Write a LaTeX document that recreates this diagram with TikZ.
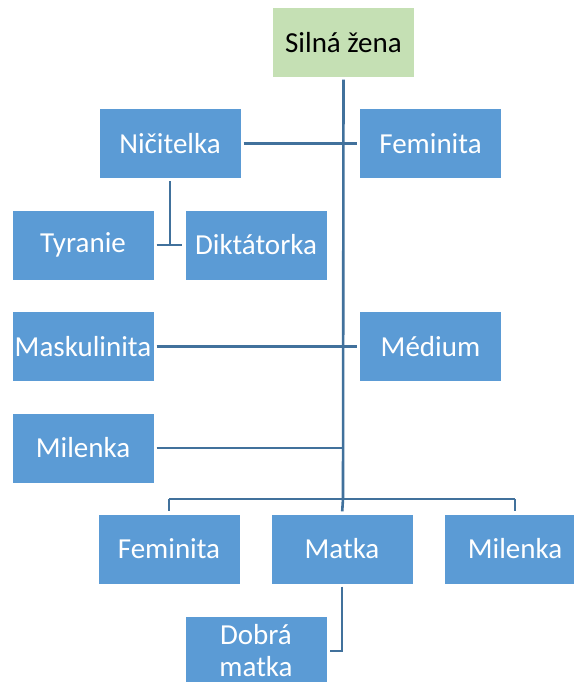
\documentclass[tikz,border=0pt]{standalone}
\usepackage{fontspec}
\setmainfont{Carlito}
\definecolor{boxblue}{HTML}{5B9BD5}
\definecolor{boxgreen}{HTML}{C5E0B4}
\definecolor{linkblue}{HTML}{41719C}
\begin{document}
\begin{tikzpicture}[x=1pt,y=-1pt,
  box/.style={fill=boxblue,text=white,minimum width=141pt,minimum height=69pt,inner sep=0pt,
    align=center,font=\fontsize{29}{32}\selectfont},
  rootbox/.style={box,fill=boxgreen,text=black},
  link/.style={draw=linkblue,line width=2.6pt}]
\useasboundingbox (0,0) rectangle (573,682);
\fill[white] (0,0) rectangle (573,682);
\node[rootbox] (silna) at (343.5,42.5) {Silná žena};
\node[box] (nic) at (170,143.5) {Ničitelka};
\node[box] (fem1) at (430.5,143.5) {Feminita};
\node[box] (tyr) at (83,245) {Tyranie};
\node[box] (dikt) at (256,245) {Diktátorka};
\node[box] (mask) at (83,346.5) {Maskulinita};
\node[box] (med) at (430.5,346.5) {Médium};
\node[box] (mil1) at (83,448) {Milenka};
\node[box] (fem2) at (169,549) {Feminita};
\node[box] (matka) at (342,549) {Matka};
\node[box] (mil2) at (515,549) {Milenka};
\node[box] (dobra) at (256,651) {Dobrá\\matka};
\coordinate (bus) at (343,499);
% trunk
\draw[link,shorten <=2.5pt] (silna.south) -- (bus);
% cross links
\draw[link,shorten <=3pt,shorten >=3pt] (nic.east) -- (fem1.west);
\draw[link,shorten <=3pt,shorten >=3pt] (mask.east) -- (med.west);
\draw[link,shorten <=3pt] (mil1.east) -- (mil1.east -| bus);
% bottom bus
\draw[link,shorten >=3pt] (fem2.north |- bus) -- (fem2.north);
\draw[link,shorten >=3pt] (mil2.north |- bus) -- (mil2.north);
\draw[link,shorten >=3pt] (bus) -- (matka.north);
\draw[link] (fem2.north |- bus) -- (mil2.north |- bus);
% Ničitelka children
\draw[link,shorten <=3pt] (nic.south) -- (nic.south |- tyr.east);
\draw[link,shorten <=3pt,shorten >=3pt] (tyr.east) -- (dikt.west);
% Matka child
\draw[link,shorten <=3pt,shorten >=3pt] (matka.south) |- (dobra.east);
\end{tikzpicture}
\end{document}
